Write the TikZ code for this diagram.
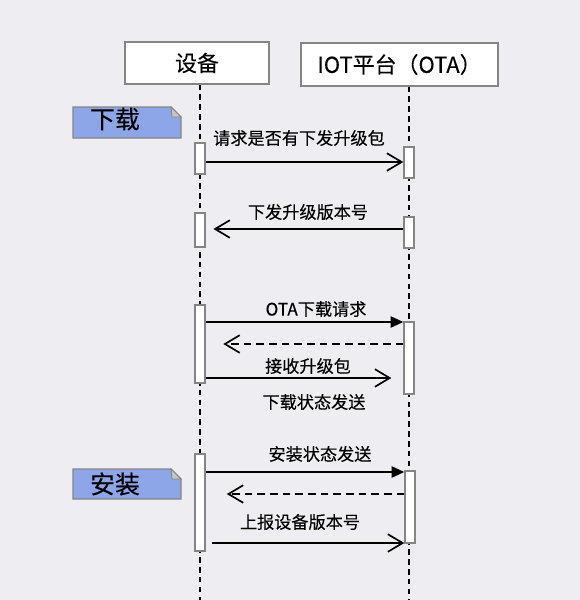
\documentclass[tikz,border=0pt]{standalone}
\usepackage{fontspec}
\setmainfont{Noto Sans CJK SC}[FakeBold=0.2]
\usetikzlibrary{arrows.meta}
\definecolor{bgcol}{HTML}{EEEDF1}
\definecolor{noteblue}{HTML}{8DA6E8}
\definecolor{edgegray}{HTML}{858585}
\begin{document}
\begin{tikzpicture}[x=0.025cm, y=-0.025cm, font=\fontsize{12.2}{14}\selectfont,
  head/.style={draw=edgegray, fill=white, line width=0.9pt, inner sep=0pt, font=\fontsize{15.6}{18}\selectfont},
  bar/.style={draw=edgegray, fill=white, line width=1pt, minimum width=0.25cm, inner sep=0pt},
  life/.style={line width=1.5pt, dash pattern=on 4pt off 3pt},
  msg/.style={line width=1.2pt, -{Straight Barb[length=10.5pt, width=12.5pt]}},
  req/.style={line width=1.2pt, -{Triangle[length=9pt, width=8pt]}},
  back/.style={msg, dash pattern=on 5.5pt off 3.5pt},
  notebox/.style={draw=edgegray, fill=noteblue, line width=0.9pt},
  notetxt/.style={inner sep=0pt, font=\fontsize{17.7}{20}\selectfont}]
\useasboundingbox (0,0) rectangle (580,600);
\fill[bgcol] (0,0) rectangle (580,600);
% participants
\node[head, minimum width=3.6cm, minimum height=1.05cm] (dev) at (197,63) {设备};
\node[head, minimum width=4.925cm, minimum height=1.075cm] (plat) at (399.5,64.5) {IOT平台（OTA）};
% lifelines
\coordinate (devend) at (200,600);
\coordinate (platend) at (409,600);
\draw[life] (devend |- dev.south) -- (devend);
\draw[life] (platend |- plat.south) -- (platend);
% notes
\draw[notebox] (73,107) -- (171,107) -- (181,117) -- (181,138) -- (73,138) -- cycle;
\draw[edgegray, fill=gray!45, line width=0.6pt] (171,107) -- (172,117) -- (181,117) -- cycle;
\node[notetxt] (nload) at (115,119) {下载};
\draw[notebox] (73,469) -- (171,469) -- (181,479) -- (181,499) -- (73,499) -- cycle;
\draw[edgegray, fill=gray!45, line width=0.6pt] (171,469) -- (172,479) -- (181,479) -- cycle;
\node[notetxt] (ninst) at (115,484) {安装};
% activation bars
\node[bar, minimum height=0.775cm] (d1) at (200,158.5) {};
\node[bar, minimum height=0.775cm] (p1) at (409,162.5) {};
\node[bar, minimum height=0.85cm] (d2) at (200,230) {};
\node[bar, minimum height=0.775cm] (p2) at (409,232.5) {};
\node[bar, minimum height=1.95cm] (d3) at (200,344) {};
\node[bar, minimum height=1.8cm] (p3) at (409,358) {};
\node[bar, minimum height=2.425cm] (d4) at (200,502.5) {};
\node[bar, minimum height=1.8cm] (p4) at (410,507) {};
% messages
\draw[msg] (d1.east |- 0,162) -- (p1.west |- 0,162);
\node (l1) at (299,138) {请求是否有下发升级包};
\draw[msg, shorten >=5.5pt] (p2.west |- 0,229) -- (d2.east |- 0,229);
\node (l2) at (308,212) {下发升级版本号};
\draw[req] (d3.east |- 0,322) -- (p3.west |- 0,322);
\node (l3) at (316,309) {OTA下载请求};
\draw[back, shorten >=12.5pt] (p3.west |- 0,344) -- (d3.east |- 0,344);
\draw[msg, shorten >=8.5pt] (d3.east |- 0,378) -- (p3.west |- 0,378);
\node (l4) at (308,366) {接收升级包};
\node (l5) at (314,402) {下载状态发送};
\draw[req] (d4.east |- 0,472) -- (p4.west |- 0,472);
\node (l6) at (320,454) {安装状态发送};
\draw[back, shorten >=15pt] (p4.west |- 0,494) -- (d4.east |- 0,494);
\draw[msg, shorten <=4.3pt] (d4.east |- 0,543) -- (p4.west |- 0,543);
\node (l7) at (300,522) {上报设备版本号};
\end{tikzpicture}
\end{document}
